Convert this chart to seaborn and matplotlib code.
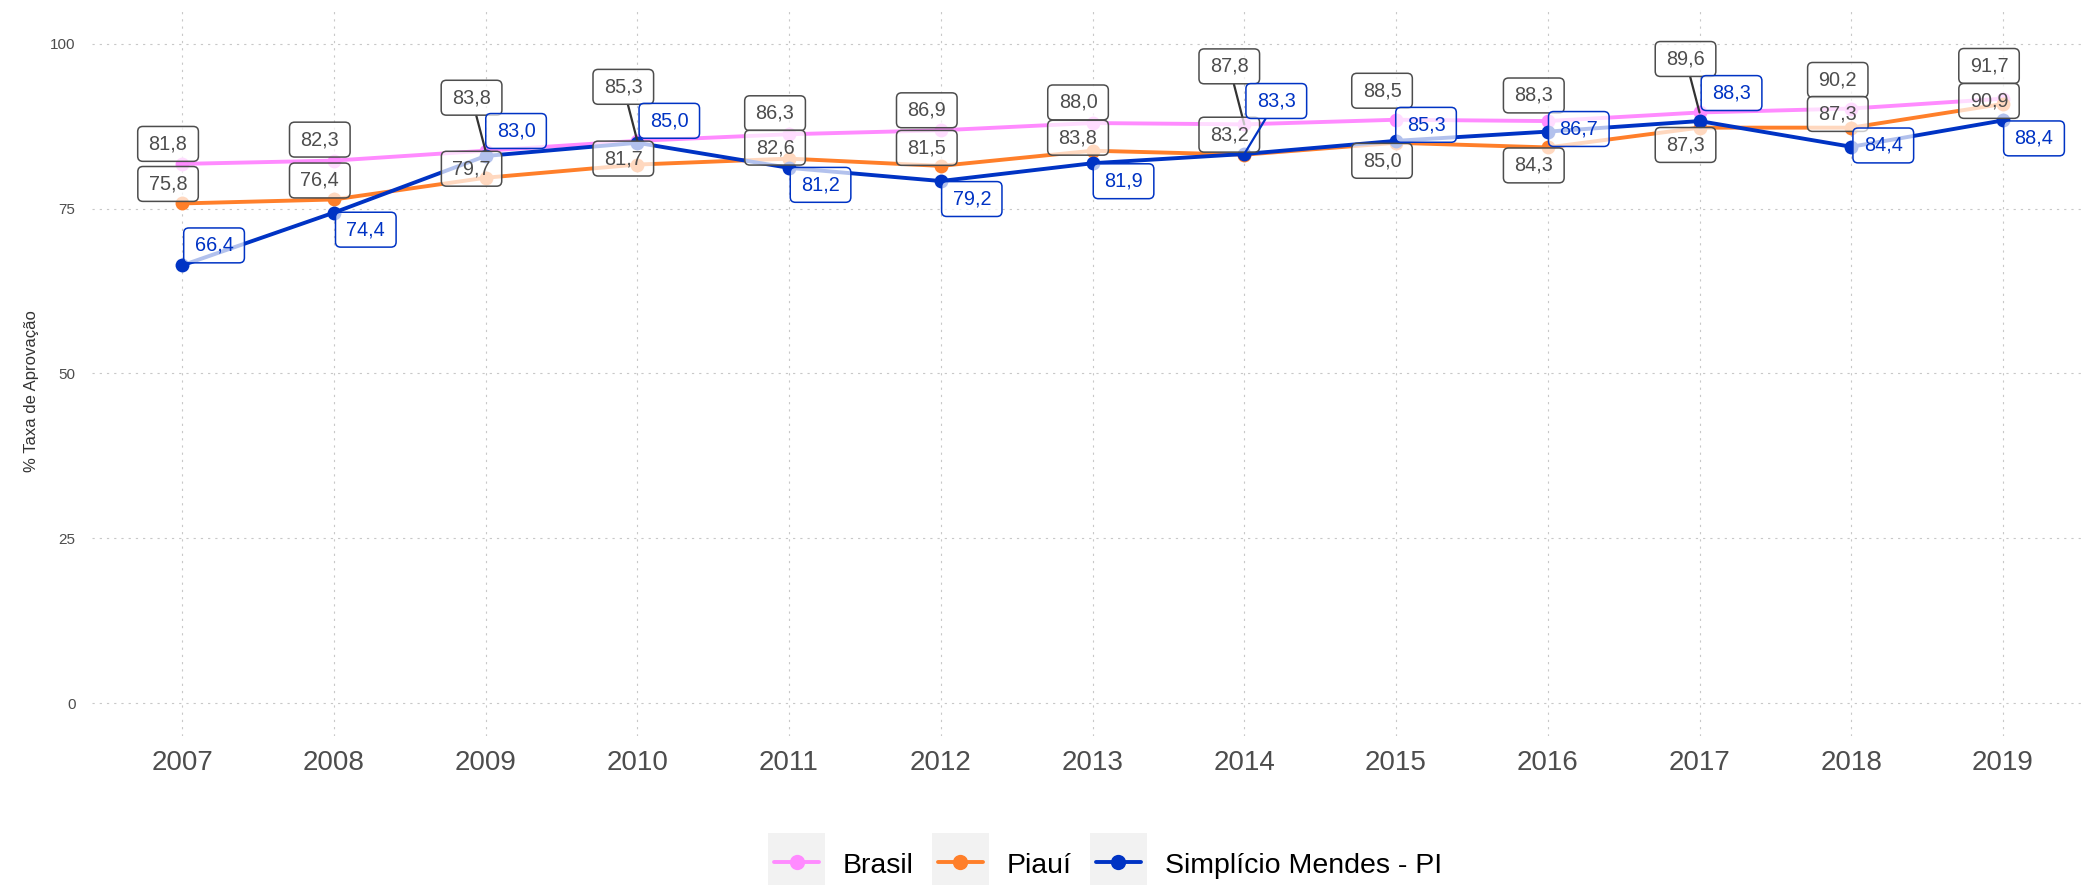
import numpy as np
import pandas as pd
import matplotlib
matplotlib.use("Agg")
import matplotlib.pyplot as plt
from matplotlib.patches import BoxStyle, Rectangle
from matplotlib.lines import Line2D
import seaborn as sns

# Taxa de aprovação (%) por ano
anos = list(range(2007, 2020))
brasil = [81.8, 82.3, 83.8, 85.3, 86.3, 86.9, 88.0, 87.8, 88.5, 88.3, 89.6, 90.2, 91.7]
piaui = [75.8, 76.4, 79.7, 81.7, 82.6, 81.5, 83.8, 83.2, 85.0, 84.3, 87.3, 87.3, 90.9]
simplicio = [66.4, 74.4, 83.0, 85.0, 81.2, 79.2, 81.9, 83.3, 85.3, 86.7, 88.3, 84.4, 88.4]
locais = ["Brasil", "Piauí", "Simplício Mendes - PI"]
cores = ["#FF8BFF", "#FF7F2A", "#0033C4"]
y_ticks = [0, 25, 50, 75, 100]

# deslocamento dos rótulos (pixels: direita, cima) em relação a cada ponto
desloc_brasil = [(-14, 20), (-14, 21), (-14, 53), (-14, 54), (-14, 21), (-14, 20), (-14.5, 20.6),
                 (-15, 58), (-14, 29), (-14, 25.6), (-14, 53.5), (-13.5, 28.6), (-14, 32.7)]
desloc_piaui = [(-14, 19.5), (-14, 19), (-14, 9), (-14, 6), (-14, 11), (-14, 18), (-14.5, 13),
                (-15, 20), (-14, -18), (-14, -18), (-14, -17.3), (-13.5, 13.7), (-14, 3)]
desloc_simplicio = [(32, 20), (32, -17), (30.5, 25), (32, 22), (31.5, -17), (31, -18), (31, -18),
                    (32, 53), (30, 16), (31, 2.6), (32, 28), (32, 1.3), (31, -18)]

df = pd.DataFrame({
    "ano": anos * 3,
    "taxa": brasil + piaui + simplicio,
    "local": [locais[0]] * len(anos) + [locais[1]] * len(anos) + [locais[2]] * len(anos),
})

sns.set_theme(style="white")
plt.rcParams["font.family"] = ["Liberation Sans", "DejaVu Sans"]

fig = plt.figure(figsize=(20.83, 8.86), dpi=100)
ax = fig.add_axes([0.0442, 0.1693, 0.9558, 0.8183])

sns.lineplot(data=df, x="ano", y="taxa", hue="local", hue_order=locais, palette=cores,
             marker="o", markersize=10, markeredgewidth=0, linewidth=2.8,
             legend=False, ax=ax, zorder=3)

ax.set_xlim(2006.407, 2019.527)
ax.set_ylim(-5, 105)
ax.set_xticks(anos)
ax.set_xticklabels([str(a) for a in anos])
ax.set_yticks(y_ticks)
ax.grid(True, color="#C8C8C8", linewidth=0.8, linestyle=(0, (2, 4.5)))
for s in ax.spines.values():
    s.set_visible(False)
ax.tick_params(axis="x", length=0, pad=10, labelsize=20, labelcolor="#4D4D4D")
ax.tick_params(axis="y", length=0, pad=12, labelsize=11, labelcolor="#4D4D4D")
ax.set_xlabel("")
ax.set_ylabel("% Taxa de Aprovação", fontsize=12, color="#333333")
ax.yaxis.set_label_coords(-0.0266, 0.476)


def caixa(x0, y0, width, height, mutation_size):
    px = 0.55 * mutation_size
    py = 0.40 * mutation_size
    return BoxStyle.Round(pad=0, rounding_size=0.26)(
        x0 - px, y0 - py, width + 2 * px, height + 2 * py, mutation_size)


series = [
    (brasil, desloc_brasil, "#4D4D4D", "#4D4D4D", "#333333"),
    (piaui, desloc_piaui, "#4D4D4D", "#4D4D4D", "#333333"),
    (simplicio, desloc_simplicio, "#0033C4", "#0033C4", "#0033C4"),
]
for valores, desloc, cor_txt, cor_borda, cor_seg in series:
    for ano, v, (dx, dy) in zip(anos, valores, desloc):
        folga = np.hypot(max(abs(dx) - 30, 0), max(abs(dy) - 17, 0))
        seta = None
        if folga > 20:
            seta = dict(arrowstyle="-", color=cor_seg, lw=1.6, shrinkA=0, shrinkB=0)
        ax.annotate(f"{v:.1f}".replace(".", ","), xy=(ano, v), xytext=(dx, dy),
                    textcoords="offset pixels", ha="center", va="center",
                    fontsize=14.3, color=cor_txt, zorder=5,
                    bbox=dict(boxstyle=caixa, fc=(1, 1, 1, 0.7), ec=cor_borda, lw=1.1),
                    arrowprops=seta)

# legenda inferior
W, H = fig.get_size_inches() * fig.dpi
renderer = fig.canvas.get_renderer()
x = 768.0
for nome, cor in zip(locais, cores):
    fig.add_artist(Rectangle((x / W, 1 - 885 / H), 57 / W, 52 / H,
                             transform=fig.transFigure, fc="#F2F2F2", ec="none"))
    fig.add_artist(Line2D([(x + 6) / W, (x + 51) / W], [1 - 861.5 / H] * 2,
                          transform=fig.transFigure, color=cor, lw=2.8))
    fig.add_artist(Line2D([(x + 28.5) / W], [1 - 861.5 / H], marker="o", ms=11, mew=0,
                          color=cor, transform=fig.transFigure))
    t = fig.text((x + 75) / W, 1 - 873 / H, nome, fontsize=20.5, color="black",
                 va="baseline", ha="left")
    bb = t.get_window_extent(renderer)
    x = x + 75 + bb.width + 18

fig.savefig("out.png", dpi=100, facecolor="white")
